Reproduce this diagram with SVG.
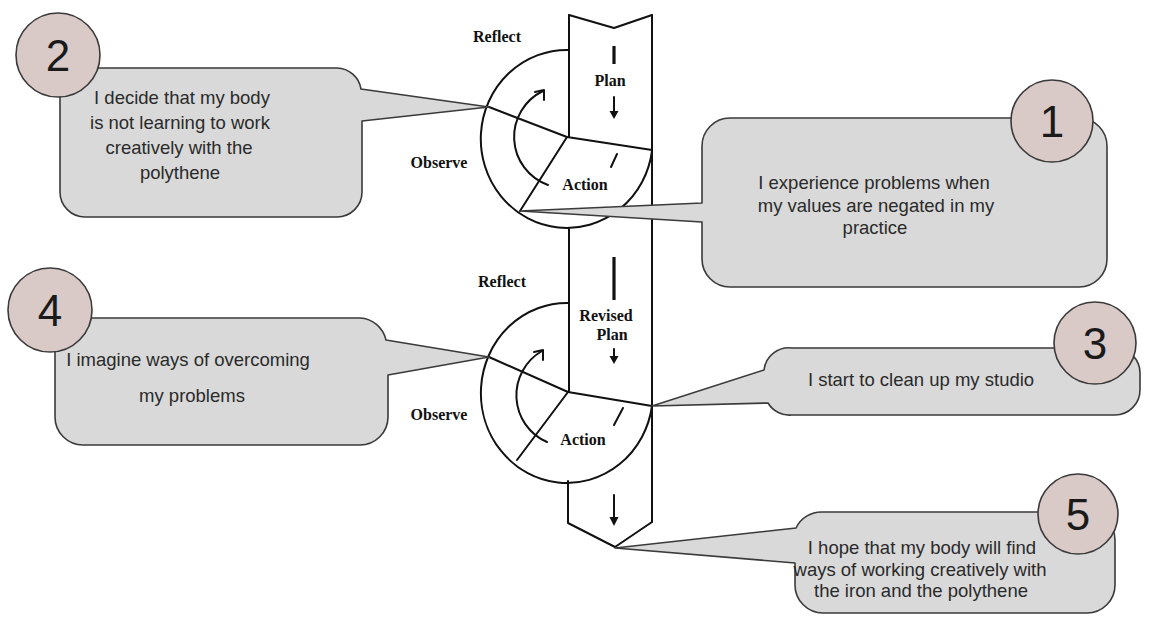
<svg xmlns="http://www.w3.org/2000/svg" width="1171" height="617" viewBox="0 0 1171 617">
<defs>
<style>
.ln{fill:none;stroke:#111;stroke-width:2;stroke-linejoin:round;stroke-linecap:round}
.bar{fill:none;stroke:#111;stroke-width:3.2}
.ah{fill:#111;stroke:none}
.bub{fill:#d9d9d9;stroke:#3a3a3a;stroke-width:1.6;stroke-linejoin:round}
.num{fill:#d9cac8;stroke:#3a3a3a;stroke-width:1.6}
.nt{font-family:"Liberation Sans",Arial,sans-serif;font-size:44px;fill:#1a1a1a;text-anchor:middle}
.bt{font-family:"Liberation Sans",Arial,sans-serif;font-size:18.5px;fill:#2a2a2a;text-anchor:middle}
.lb{font-family:"Liberation Serif","Times New Roman",serif;font-size:16px;font-weight:bold;fill:#111;text-anchor:middle}
</style>
</defs>
<rect width="1171" height="617" fill="#ffffff"/>

<g id="cycle-strip">
<path class="ln" d="M569,15 L614,28 L652,15"/>
<path class="ln" d="M569,15 V137"/>
<path class="ln" d="M652,15 V522"/>
<path class="ln" d="M569,228 V392"/>
<path class="ln" d="M568,481 V523 L615,547 L652,522"/>
</g>

<g id="cycle-1">
<path class="ln" d="M569,50 A86,89 0 1 0 652,151"/>
<path class="ln" d="M489,107 L567,137 L652,150"/>
<path class="ln" d="M567,137 L520,211"/>
<path class="ln" d="M617,154 L611,167"/>
<text class="lb" x="497" y="42">Reflect</text>
<text class="lb" x="610" y="86">Plan</text>
<text class="lb" x="585" y="190">Action</text>
<text class="lb" x="439" y="168">Observe</text>
</g>

<g id="cycle-2">
<path class="ln" d="M569,303 A86,90 0 1 0 652,406"/>
<path class="ln" d="M489,357 L568,392 L652,406"/>
<path class="ln" d="M568,392 L517,460"/>
<path class="ln" d="M623,408 L614,425"/>
<text class="lb" x="502" y="287">Reflect</text>
<text class="lb" x="606" y="321">Revised</text>
<text class="lb" x="612" y="340">Plan</text>
<text class="lb" x="583" y="445">Action</text>
<text class="lb" x="439" y="420">Observe</text>
</g>

<g id="connectors">
<path class="ln" d="M548,185 A51,51 0 0 1 543,91"/>
<path class="ln" d="M535,92 L544,90 L544,100"/>
<path class="ln" d="M547,442 A51,51 0 0 1 542,351"/>
<path class="ln" d="M534,352 L543,350 L543,360"/>
<path class="bar" d="M614,46 V64"/>
<path class="ln" d="M614,97 V112"/>
<path class="ah" d="M609.5,111 L618.5,111 L614,119 Z"/>
<path class="bar" d="M614,257 V300"/>
<path class="ln" d="M614,349 V357"/>
<path class="ah" d="M609.5,356 L618.5,356 L614,364 Z"/>
<path class="ln" d="M614,495 V518"/>
<path class="ah" d="M609.5,517 L618.5,517 L614,526 Z"/>
</g>

<g id="callout-2">
<path class="bub" d="M85,68 H337 A25,25 0 0 1 361,89 L489,107 L362,121 V192 A25,25 0 0 1 337,217 H85 A25,25 0 0 1 60,192 V93 A25,25 0 0 1 85,68 Z"/>
<circle class="num" cx="58" cy="55" r="42"/>
<text class="nt" x="58" y="71">2</text>
<text class="bt" x="182" y="104">I decide that my body</text>
<text class="bt" x="180" y="129">is not learning to work</text>
<text class="bt" x="179" y="154">creatively with the</text>
<text class="bt" x="180" y="179">polythene</text>
</g>

<g id="callout-1">
<path class="bub" d="M730,118 H1079 A28,28 0 0 1 1107,146 V259 A28,28 0 0 1 1079,287 H730 A28,28 0 0 1 702,259 V222 L520,211 L702,203 V146 A28,28 0 0 1 730,118 Z"/>
<circle class="num" cx="1052" cy="121" r="41"/>
<text class="nt" x="1052" y="137">1</text>
<text class="bt" x="874" y="189">I experience problems when</text>
<text class="bt" x="876" y="212">my values are negated in my</text>
<text class="bt" x="875" y="234">practice</text>
</g>

<g id="callout-4">
<path class="bub" d="M83,318 H360 A28,28 0 0 1 386,340 L489,357 L388,375 V417 A28,28 0 0 1 360,445 H83 A28,28 0 0 1 55,417 V346 A28,28 0 0 1 83,318 Z"/>
<circle class="num" cx="50" cy="310" r="42"/>
<text class="nt" x="50" y="326">4</text>
<text class="bt" x="188" y="366">I imagine ways of overcoming</text>
<text class="bt" x="192" y="402">my problems</text>
</g>

<g id="callout-3">
<path class="bub" d="M792,348 H1115 A25,25 0 0 1 1140,373 V390 A25,25 0 0 1 1115,415 H792 A25,25 0 0 1 768,403 L652,406 L764,370 A25,25 0 0 1 792,348 Z"/>
<circle class="num" cx="1095" cy="343" r="41"/>
<text class="nt" x="1095" y="359">3</text>
<text class="bt" x="921" y="386">I start to clean up my studio</text>
</g>

<g id="callout-5">
<path class="bub" d="M823,512 H1087 A28,28 0 0 1 1115,540 V585 A28,28 0 0 1 1087,613 H823 A28,28 0 0 1 795,585 V563 L615,548 L796,528 A28,28 0 0 1 823,512 Z"/>
<circle class="num" cx="1078" cy="514" r="40"/>
<text class="nt" x="1078" y="530">5</text>
<text class="bt" x="922" y="554">I hope that my body will find</text>
<text class="bt" x="920" y="576">ways of working creatively with</text>
<text class="bt" x="921" y="597">the iron and the polythene</text>
</g>
</svg>
